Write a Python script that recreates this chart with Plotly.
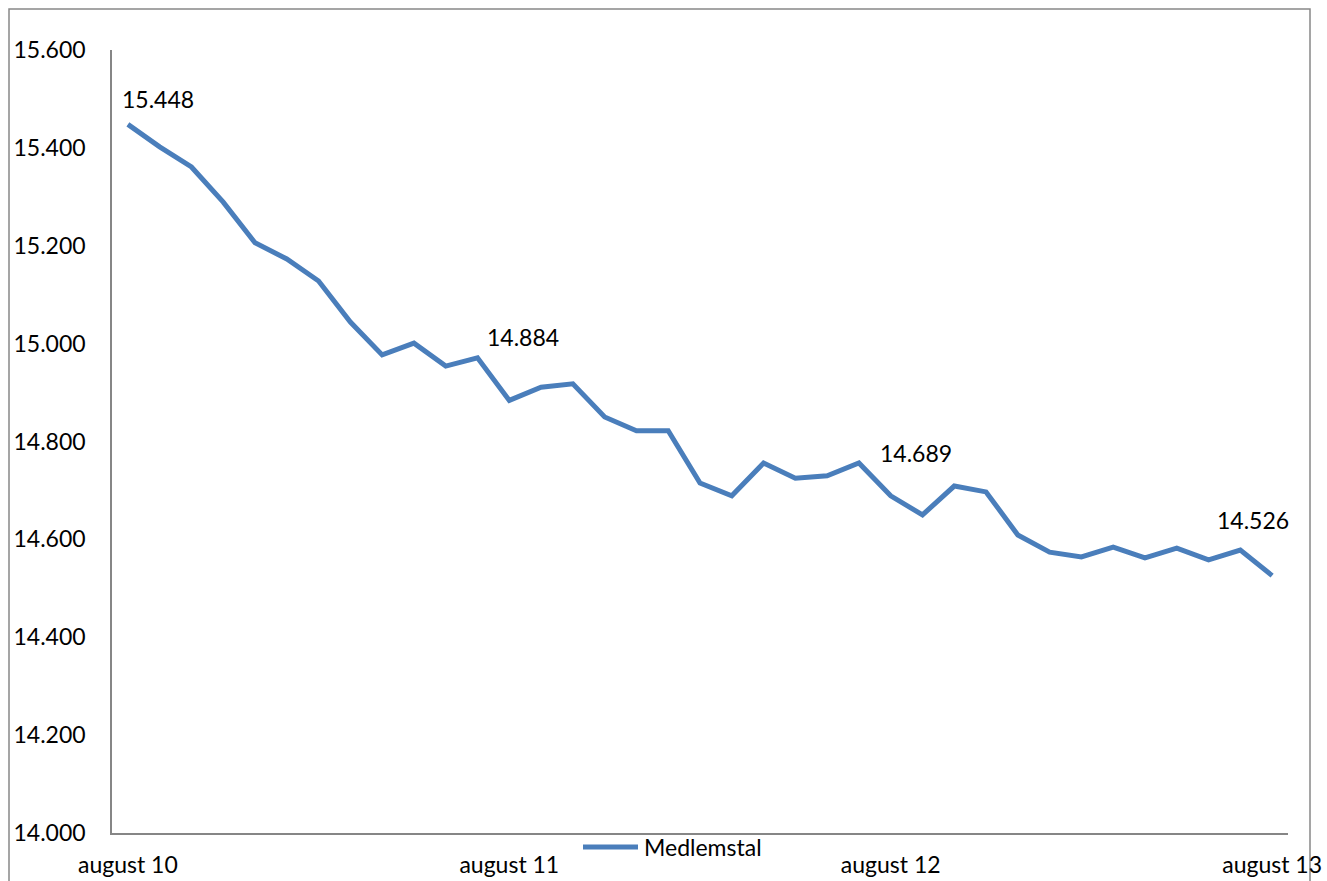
import plotly.graph_objects as go

# Data (monthly, August 2010 - August 2013)
months = [
    "aug 10", "sep 10", "okt 10", "nov 10", "dec 10", "jan 11", "feb 11", "mar 11", "apr 11",
    "maj 11", "jun 11", "jul 11", "aug 11", "sep 11", "okt 11", "nov 11", "dec 11", "jan 12",
    "feb 12", "mar 12", "apr 12", "maj 12", "jun 12", "jul 12", "aug 12", "sep 12", "okt 12",
    "nov 12", "dec 12", "jan 13", "feb 13", "mar 13", "apr 13", "maj 13", "jun 13", "jul 13",
    "aug 13",
]
medlemstal = [
    15.448, 15.402, 15.361, 15.289, 15.206, 15.173, 15.128, 15.044, 14.977,
    15.001, 14.954, 14.971, 14.884, 14.911, 14.918, 14.850, 14.822, 14.822,
    14.715, 14.689, 14.756, 14.725, 14.730, 14.756, 14.689, 14.650, 14.709,
    14.697, 14.609, 14.574, 14.564, 14.584, 14.562, 14.582, 14.558, 14.578,
    14.526,
]
series_name = "Medlemstal"
x_tick_idx = [0, 12, 24, 36]
x_tick_text = ["august 10", "august 11", "august 12", "august 13"]
y_ticks = [14.0, 14.2, 14.4, 14.6, 14.8, 15.0, 15.2, 15.4, 15.6]
y_tick_text = ["14.000", "14.200", "14.400", "14.600", "14.800", "15.000", "15.200", "15.400", "15.600"]
label_idx = [0, 12, 24, 36]
label_text = ["15.448", "14.884", "14.689", "14.526"]
label_shift = [(30, 25), (14, 63), (25, 43), (-19, 56)]

FONT = "Lato"
COLOR = "#4A7EBB"
fig = go.Figure()
fig.add_trace(go.Scatter(
    x=list(range(len(months))), y=medlemstal, mode="lines", name=series_name,
    line=dict(color=COLOR, width=5), showlegend=False,
))

for i, t, (dx, dy) in zip(label_idx, label_text, label_shift):
    fig.add_annotation(x=i, y=medlemstal[i], text=t, showarrow=False,
                       xshift=dx, yshift=dy, font=dict(family=FONT, size=23, color="#000"))

W, H = 1327, 881
L, R, T, B = 112, 39, 50, 48
pw, ph = W - L - R, H - T - B
def px(x): return (x - L) / pw
def py(y): return (H - B - y) / ph

fig.add_shape(type="rect", xref="paper", yref="paper",
              x0=px(9), x1=px(1310), y0=py(905), y1=py(9),
              line=dict(color="#888888", width=1.5), layer="below")

# legend (drawn manually so it does not push the plot margins)
fig.add_shape(type="line", xref="paper", yref="paper",
              x0=px(583), x1=px(638), y0=py(847), y1=py(847),
              line=dict(color=COLOR, width=5))
fig.add_annotation(xref="paper", yref="paper", x=px(642), y=py(847), text=series_name,
                   showarrow=False, xanchor="left", yanchor="middle",
                   font=dict(family=FONT, size=23, color="#000"))

fig.update_layout(
    width=W, height=H, margin=dict(l=L, r=R, t=T, b=B, autoexpand=False),
    paper_bgcolor="white", plot_bgcolor="white",
    font=dict(family=FONT, size=23, color="#000"),
    showlegend=False,
    xaxis=dict(range=[-0.5, len(months) - 0.5], tickvals=x_tick_idx, ticktext=x_tick_text,
               showgrid=False, zeroline=False, showline=True, linecolor="#868686", linewidth=1.5,
               ticks="", ticklabelstandoff=11, fixedrange=True, automargin=False),
    yaxis=dict(range=[14.0, 15.6], tickvals=y_ticks, ticktext=y_tick_text,
               showgrid=False, zeroline=False, showline=True, linecolor="#868686", linewidth=1.5,
               ticks="", ticklabelstandoff=20, fixedrange=True, automargin=False),
)

fig.write_html("out.html")
